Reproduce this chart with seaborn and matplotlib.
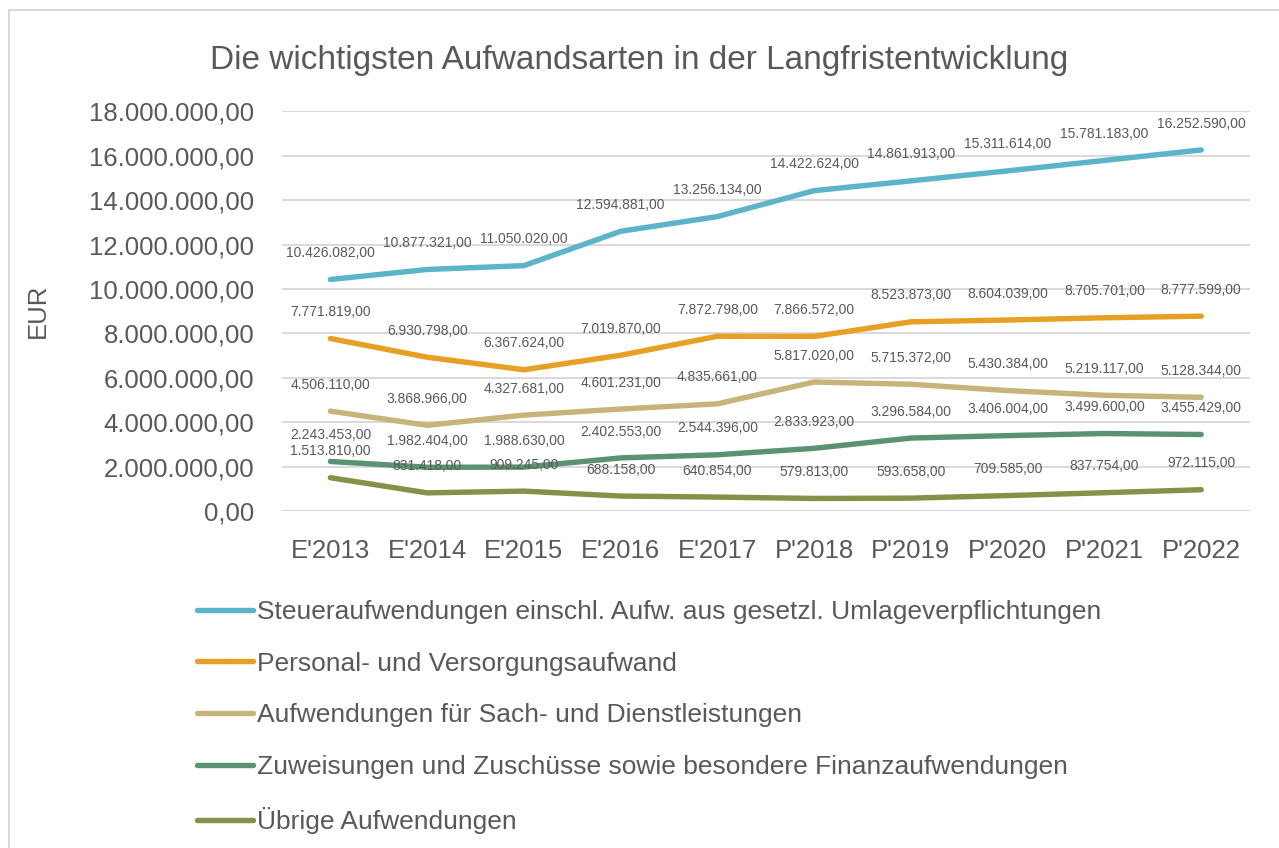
import pandas as pd
import numpy as np
import matplotlib
matplotlib.use('Agg')
import matplotlib.pyplot as plt
import seaborn as sns
from matplotlib.patches import Rectangle

# ── DATA ───────────────────────────────────────────────────────
jahre = ["E'2013", "E'2014", "E'2015", "E'2016", "E'2017",
         "P'2018", "P'2019", "P'2020", "P'2021", "P'2022"]

steuer   = [10426082, 10877321, 11050020, 12594881, 13256134,
            14422624, 14861913, 15311614, 15781183, 16252590]
personal = [7771819, 6930798, 6367624, 7019870, 7872798,
            7866572, 8523873, 8604039, 8705701, 8777599]
sach     = [4506110, 3868966, 4327681, 4601231, 4835661,
            5817020, 5715372, 5430384, 5219117, 5128344]
zuweis   = [2243453, 1982404, 1988630, 2402553, 2544396,
            2833923, 3296584, 3406004, 3499600, 3455429]
uebrige  = [1513810, 831418, 909245, 688158, 640854,
            579813, 593658, 709585, 837754, 972115]

serien = [
    'Steueraufwendungen einschl. Aufw. aus gesetzl. Umlageverpflichtungen',
    'Personal- und Versorgungsaufwand',
    'Aufwendungen für Sach- und Dienstleistungen',
    'Zuweisungen und Zuschüsse sowie besondere Finanzaufwendungen',
    'Übrige Aufwendungen',
]
werte = [steuer, personal, sach, zuweis, uebrige]
farben = ['#5BB4C8', '#E6A023', '#C8B47A', '#5B9273', '#869148']

df = pd.concat([pd.DataFrame({'Jahr': jahre, 'Wert': w, 'Art': s})
                for s, w in zip(serien, werte)], ignore_index=True)


def de_fmt(v):
    return f"{v:,.2f}".replace(',', 'X').replace('.', ',').replace('X', '.')


# ── PLOT ───────────────────────────────────────────────────────
sns.set_style('white')
plt.rcParams['font.family'] = ['Liberation Sans', 'DejaVu Sans']
txt = '#595959'

fig = plt.figure(figsize=(12.79, 8.48), dpi=100)
ax = fig.add_axes([0.2205, 0.397, 0.7565, 0.472])

sns.lineplot(data=df, x='Jahr', y='Wert', hue='Art', palette=farben,
             sort=False, lw=3.9, ax=ax, legend=True,
             solid_capstyle='round', solid_joinstyle='round')

for s, w in zip(serien, werte):
    for i, v in enumerate(w):
        ax.annotate(de_fmt(v), (i, v), xytext=(0, 19), textcoords='offset points',
                    ha='center', va='center', fontsize=10, color=txt)

ax.set_xlim(-0.5, 9.5)
ax.set_ylim(0, 18000000)
ax.set_yticks(np.arange(0, 18000001, 2000000))
ax.yaxis.set_major_formatter(plt.FuncFormatter(lambda v, p: de_fmt(v)))
ax.grid(axis='y', color='#D9D9D9', lw=1.4)
ax.set_axisbelow(True)
sns.despine(ax=ax, left=True, bottom=True)
ax.tick_params(axis='both', length=0, labelsize=18.5, labelcolor=txt)
ax.tick_params(axis='y', pad=20)
ax.tick_params(axis='x', pad=20)
ax.set_xlabel('')
ax.set_ylabel('EUR', fontsize=18.5, color=txt)
ax.yaxis.set_label_coords(-0.24, 0.5)

fig.text(0.50, 0.929, 'Die wichtigsten Aufwandsarten in der Langfristentwicklung',
         ha='center', va='center', fontsize=24, color=txt)

h, l = ax.get_legend_handles_labels()
ax.legend(h, l, loc='upper left', bbox_to_anchor=(0.146, 0.305),
          bbox_transform=fig.transFigure, frameon=False, fontsize=19,
          labelcolor=txt, handlelength=2.1, handletextpad=0.15,
          labelspacing=1.05, borderaxespad=0)

fig.add_artist(Rectangle((0.007, -0.01), 1.0, 0.998, transform=fig.transFigure,
                         fill=False, edgecolor='#D9D9D9', lw=1.5))

fig.savefig('out.png', dpi=100)
